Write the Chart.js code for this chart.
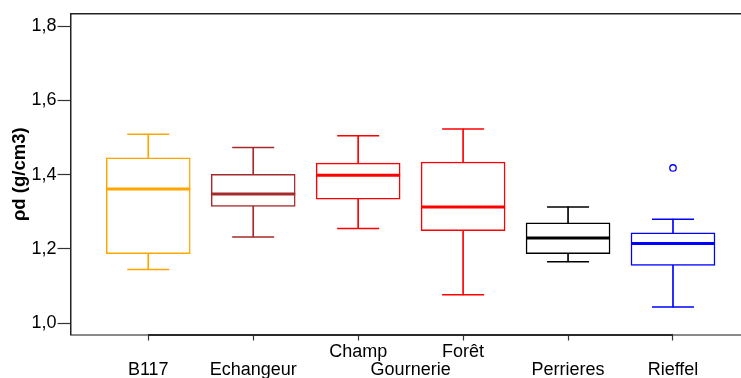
<!DOCTYPE html>
<html>
<head>
<meta charset="utf-8">
<script src="https://cdn.jsdelivr.net/npm/chart.js@4"></script>
<style>
  html, body { margin: 0; padding: 0; background: #fff; }
  #mainChart { display: block; }
</style>
</head>
<body>
<canvas id="mainChart" width="741" height="378"></canvas>
<script>
// box statistics, one entry per site
const SITES = ['B117', 'Echangeur', 'Champ', 'Forêt', 'Perrieres', 'Rieffel'];
const POS = [1, 2, 3, 4, 5, 6];
const LOW = [1.144, 1.232, 1.255, 1.076, 1.165, 1.043];
const Q1 = [1.187, 1.314, 1.334, 1.249, 1.187, 1.155];
const MEDIAN = [1.361, 1.348, 1.398, 1.313, 1.229, 1.214];
const Q3 = [1.445, 1.401, 1.431, 1.434, 1.270, 1.243];
const HIGH = [1.509, 1.473, 1.505, 1.523, 1.313, 1.280];
const OUTLIER_POS = [6];
const OUTLIER_VAL = [1.418];
const COLORS = ['#FFA500', '#A52A2A', '#FF0000', '#FF0000', '#000000', '#0000FF'];

// tick labels (two rows, "Gournerie" sits between Champ and Forêt)
const X_TICKS = [1, 2, 3, 3.5, 4, 5, 6];
const X_LABELS = [['', 'B117'], ['', 'Echangeur'], ['Champ', ''], ['', 'Gournerie'], ['Forêt', ''], ['', 'Perrieres'], ['', 'Rieffel']];
const Y_TICKS = [1.0, 1.2, 1.4, 1.6, 1.8];

function noPadding(axis) {
    axis.paddingLeft = 0;
    axis.paddingRight = 0;
    axis.paddingTop = 0;
    axis.paddingBottom = 0;
}

function main() {
    Chart.defaults.font.family = "'Liberation Sans', Arial, sans-serif";
    Chart.defaults.color = '#000';
    const CTX = document.getElementById('mainChart').getContext('2d');

    const boxes = POS.map((x, i) => ({x: x, y: [Q1[i], Q3[i]]}));
    const stems = POS.map((x, i) => ({x: x, y: [LOW[i], HIGH[i]]}));
    const medians = POS.map((x, i) => ({x: x, y: MEDIAN[i]}));
    const caps = [];
    const capColors = [];
    POS.forEach((x, i) => {
        caps.push({x: x, y: LOW[i]}, {x: x, y: HIGH[i]});
        capColors.push(COLORS[i], COLORS[i]);
    });
    const outliers = OUTLIER_POS.map((x, i) => ({x: x, y: OUTLIER_VAL[i]}));

    const bottomColor = (c) => {
        const s = c.scale;
        if (!s || !isFinite(s.left) || !isFinite(s.right) || s.right <= s.left) return '#333';
        const w = s.right - s.left;
        const a = Math.min(1, Math.max(0, (s.getPixelForValue(POS[0]) - s.left) / w));
        const b = Math.min(1, Math.max(0, (s.getPixelForValue(POS[POS.length - 1]) - s.left) / w));
        if (!isFinite(a) || !isFinite(b)) return '#333';
        const g = c.chart.ctx.createLinearGradient(s.left, 0, s.right, 0);
        g.addColorStop(0, '#8a8a8a');
        g.addColorStop(a, '#8a8a8a');
        g.addColorStop(a, '#2a2a2a');
        g.addColorStop(b, '#2a2a2a');
        g.addColorStop(b, '#8a8a8a');
        g.addColorStop(1, '#8a8a8a');
        return g;
    };

    new Chart(CTX, {
        type: 'bar',
        data: {
            datasets: [
                {
                    type: 'line', data: medians, showLine: false,
                    pointStyle: 'line', pointRadius: 42, pointHoverRadius: 42,
                    pointBorderColor: COLORS, pointBorderWidth: 3
                },
                {
                    type: 'line', data: caps, showLine: false,
                    pointStyle: 'line', pointRadius: 21, pointHoverRadius: 21,
                    pointBorderColor: capColors, pointBorderWidth: 1.5
                },
                {
                    type: 'line', data: outliers, showLine: false,
                    pointStyle: 'circle', pointRadius: 3.2,
                    pointBorderColor: COLORS[5], pointBackgroundColor: '#fff', pointBorderWidth: 1.3
                },
                {
                    data: boxes, grouped: false, barThickness: 84,
                    backgroundColor: '#fff', borderColor: COLORS,
                    borderWidth: 1.5, borderSkipped: false
                },
                {
                    data: stems, grouped: false, barThickness: 1,
                    backgroundColor: COLORS, borderWidth: 0
                }
            ]
        },
        options: {
            responsive: false,
            animation: false,
            devicePixelRatio: 1,
            layout: { autoPadding: false, padding: { top: 14, right: 0, left: 0, bottom: 0 } },
            plugins: { legend: { display: false }, tooltip: { enabled: false } },
            scales: {
                x: {
                    type: 'linear', position: 'bottom', offset: false,
                    min: 0.259, max: 6.648,
                    afterBuildTicks: (axis) => { axis.ticks = X_TICKS.map(v => ({value: v})); },
                    afterFit: (axis) => { axis.height = 43.5; noPadding(axis); },
                    ticks: {
                        autoSkip: false, maxRotation: 0, minRotation: 0, padding: 3,
                        font: { size: 18, lineHeight: '17.5px' },
                        callback: (v, i) => X_LABELS[i]
                    },
                    grid: {
                        offset: false, drawOnChartArea: false, drawTicks: true, tickLength: 6,
                        tickWidth: 1.2,
                        tickColor: (c) => (c.tick && c.tick.value === 3.5) ? 'rgba(0,0,0,0)' : '#333'
                    },
                    border: { display: true, width: 2, color: bottomColor }
                },
                x2: {
                    type: 'linear', position: 'top', offset: false,
                    min: 0.259, max: 6.648,
                    afterBuildTicks: (axis) => { axis.ticks = X_TICKS.map(v => ({value: v})); },
                    afterFit: (axis) => { axis.height = 0; noPadding(axis); },
                    ticks: { display: false },
                    grid: { drawOnChartArea: false, drawTicks: false },
                    border: { display: true, width: 1.5, color: '#222' }
                },
                y: {
                    type: 'linear', position: 'left',
                    min: 0.969, max: 1.833,
                    afterBuildTicks: (axis) => { axis.ticks = Y_TICKS.map(v => ({value: v})); },
                    afterFit: (axis) => { axis.width = 70.5; noPadding(axis); },
                    ticks: {
                        padding: 1,
                        font: { size: 18 },
                        callback: (v) => v.toFixed(1).replace('.', ',')
                    },
                    grid: {
                        drawOnChartArea: false, drawTicks: true, tickLength: 13,
                        tickWidth: 1.2, tickColor: '#333'
                    },
                    border: { display: true, width: 1.5, color: '#222' },
                    title: {
                        display: true,
                        text: 'ρd (g/cm3)',
                        font: { size: 18.5, weight: 'bold' },
                        padding: { top: 8.9, bottom: 0 }
                    }
                }
            }
        }
    });
}

main();
</script>
</body>
</html>
